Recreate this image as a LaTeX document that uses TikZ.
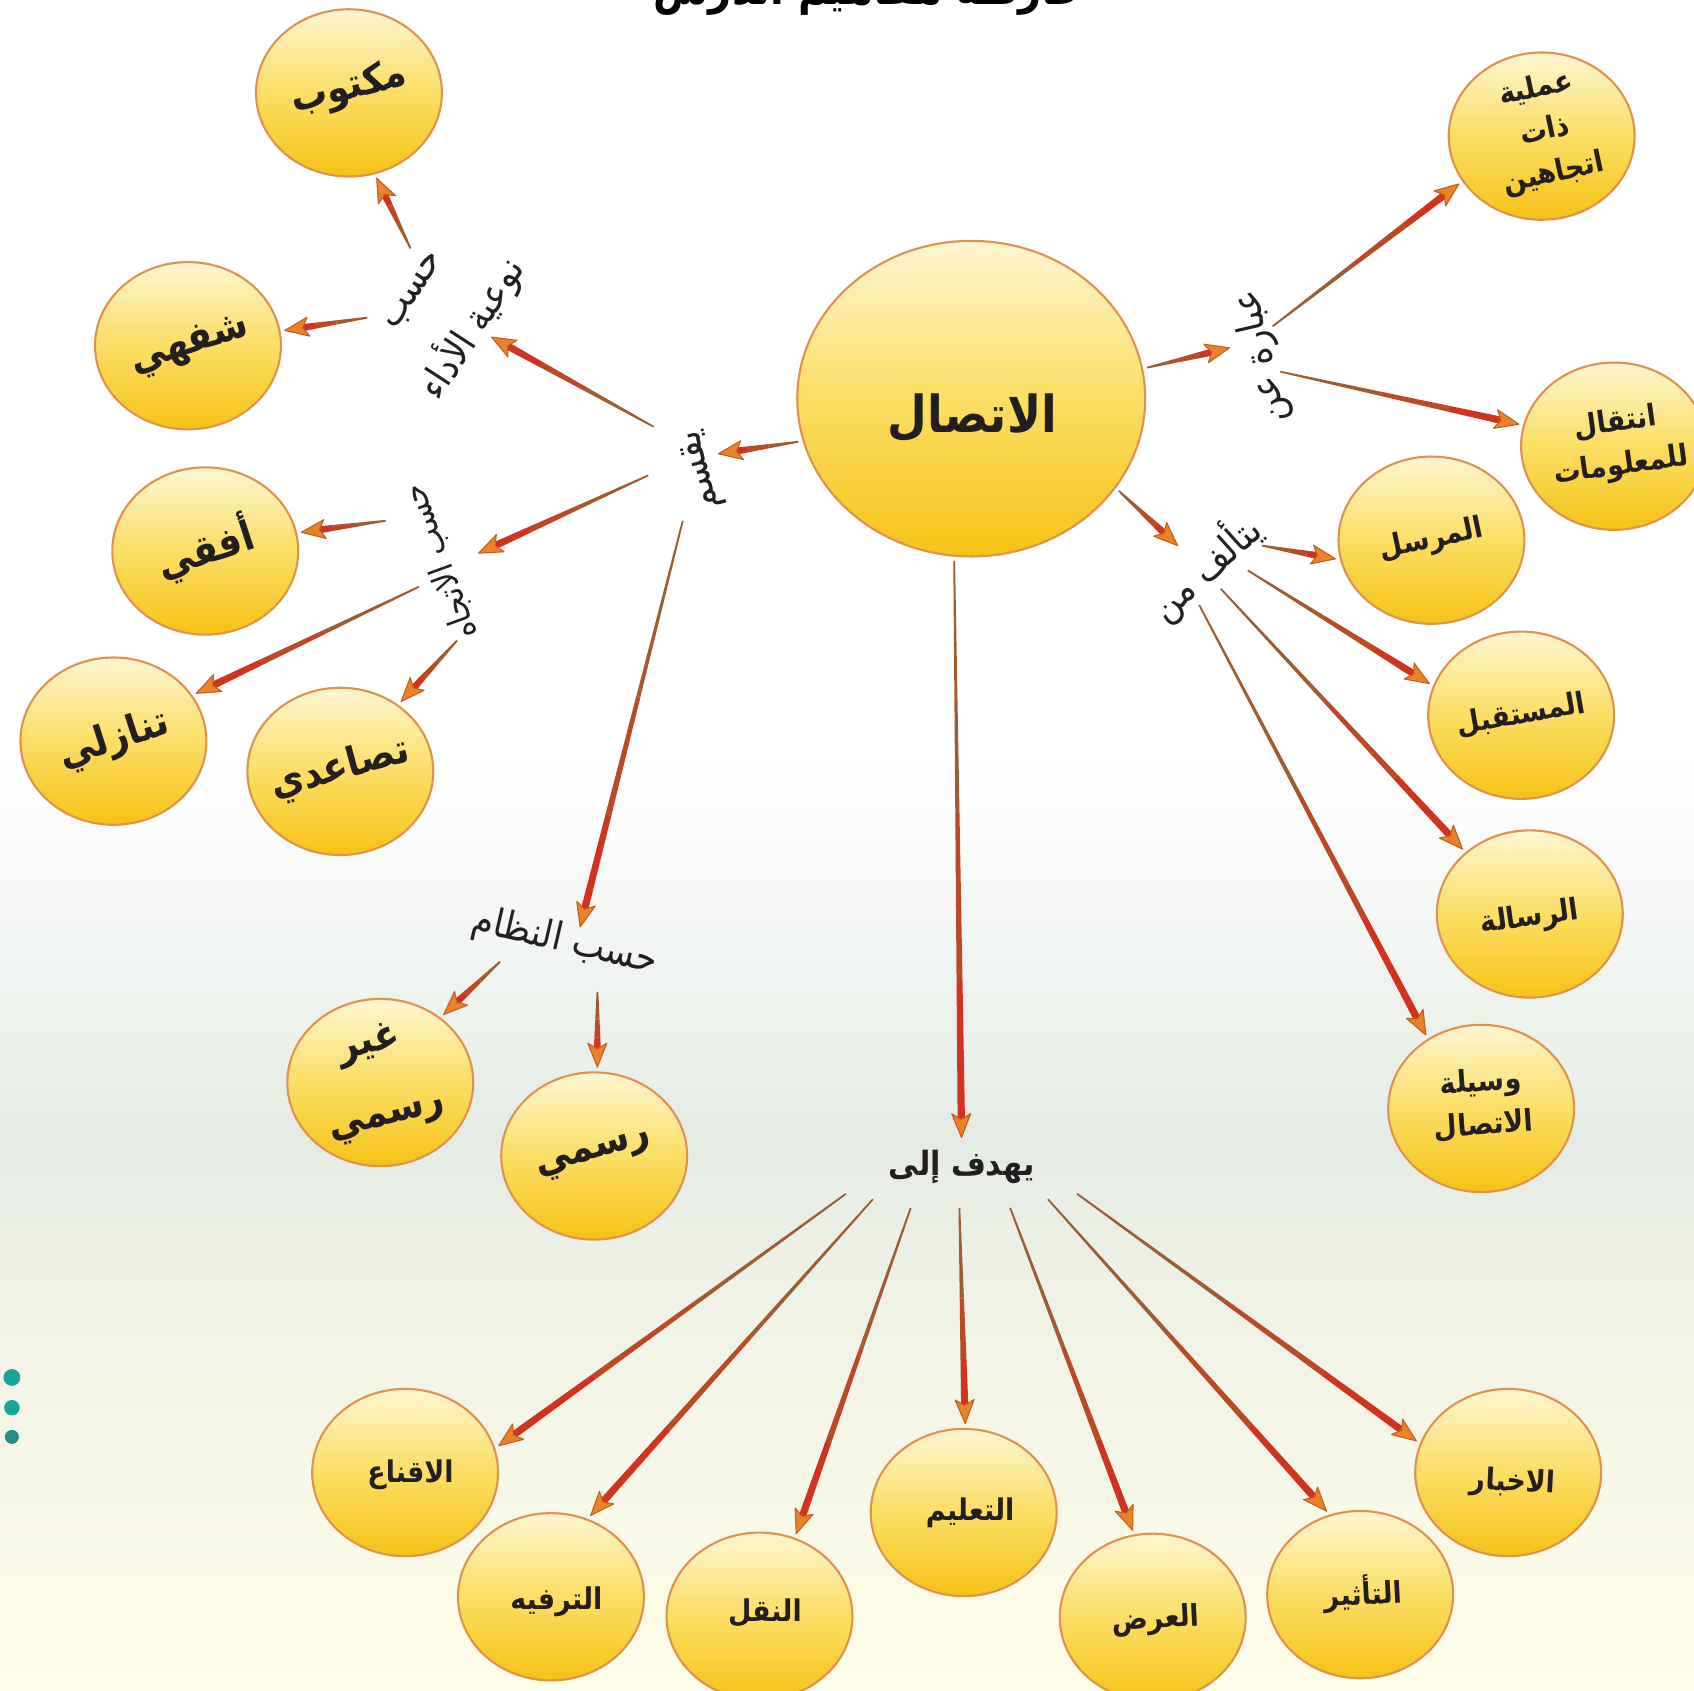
\documentclass[tikz,border=0pt]{standalone}
\usepackage{fontspec}
\usepackage{graphicx}
\usetikzlibrary{shapes.geometric,calc}
\TeXXeTstate=1
\newfontfamily\arab[Script=Arabic, FakeStretch=0.9]{DejaVu Sans}
\newcommand\AR[1]{\beginR#1\endR}
\definecolor{bubtop}{RGB}{253,245,208}
\definecolor{bubmid}{RGB}{251,222,100}
\definecolor{bubbot}{RGB}{246,194,22}
\definecolor{bubline}{RGB}{222,146,78}
\definecolor{shA}{RGB}{158,92,48}
\definecolor{shB}{RGB}{188,72,36}
\definecolor{shC}{RGB}{208,52,30}
\definecolor{hdF}{RGB}{234,130,42}
\definecolor{hdD}{RGB}{196,92,30}
\definecolor{bgA}{RGB}{228,235,228}
\definecolor{bgB}{RGB}{240,242,230}
\definecolor{bgC}{RGB}{255,253,232}
\definecolor{dotA}{RGB}{24,164,154}
\definecolor{dotB}{RGB}{36,140,128}
\definecolor{ink}{RGB}{35,31,32}
\newcommand\tarr[2]{%
 \path (#1) coordinate (tS);
 \path (#2) coordinate (tE);
 \coordinate (tH) at ($(tE)!4pt!(tS)$);
 \coordinate (tB) at ($(tE)!6.8pt!(tS)$);
 \coordinate (tN) at ($(tE)!5.2pt!(tS)$);
 \coordinate (tM1) at ($(tS)!0.45!(tH)$);
 \coordinate (tM2) at ($(tS)!0.75!(tH)$);
 \fill[shA] ($(tS)!0.25pt!90:(tE)$) -- ($(tM1)!0.6pt!90:(tE)$) -- ($(tM1)!0.6pt!-90:(tE)$) -- ($(tS)!0.25pt!-90:(tE)$) -- cycle;
 \fill[shB] ($(tM1)!0.6pt!90:(tE)$) -- ($(tM2)!0.85pt!90:(tE)$) -- ($(tM2)!0.85pt!-90:(tE)$) -- ($(tM1)!0.6pt!-90:(tE)$) -- cycle;
 \fill[shC] ($(tM2)!0.85pt!90:(tE)$) -- ($(tH)!1.05pt!90:(tE)$) -- ($(tH)!1.05pt!-90:(tE)$) -- ($(tM2)!0.85pt!-90:(tE)$) -- cycle;
 \filldraw[fill=hdF, draw=hdD, line width=0.3pt, line join=round] (tE) -- ($(tB)!2.7pt!90:(tE)$) -- (tN) -- ($(tB)!2.7pt!-90:(tE)$) -- cycle;
}
\tikzset{
 bub/.style={ellipse, minimum width=52.9pt, minimum height=47.6pt, inner sep=0pt, outer sep=1.5pt,
   draw=bubline, line width=0.6pt, top color=bubtop, bottom color=bubbot, middle color=bubmid},
 bigbub/.style={bub, minimum width=99pt, minimum height=89.8pt},
 txtbig/.style={font=\arab\bfseries\fontsize{11.5}{21}\selectfont, text=ink, inner sep=0pt, align=center},
 txtsmall/.style={font=\arab\bfseries\fontsize{8.5}{12.3}\selectfont, text=ink, inner sep=0pt, align=center},
 txtctr/.style={font=\arab\bfseries\fontsize{14.5}{17}\selectfont, text=ink, inner sep=0pt},
 lbl/.style={font=\arab\fontsize{11}{21.5}\selectfont, text=ink, inner sep=1pt, align=center},
 lblb/.style={font=\arab\bfseries\fontsize{9.5}{12}\selectfont, text=ink, inner sep=1pt},
}
\begin{document}
\begin{tikzpicture}[x=0.3074pt, y=-0.3074pt]
\useasboundingbox (0,0) rectangle (1568,1565);
\clip (0,0) rectangle (1568,1565);
% background
\fill[white] (0,0) rectangle (1568,701);
\shade[top color=white, bottom color=bgA] (0,700) rectangle (1568,1051);
\shade[top color=bgA, bottom color=bgB] (0,1050) rectangle (1568,1221);
\shade[top color=bgB, bottom color=bgC] (0,1220) rectangle (1568,1565);
% title (cut off at top)
\node[anchor=base, inner sep=0pt, font=\arab\bfseries, text=black] (title) at (805,4)
  {\resizebox{123pt}{!}{\AR{خارطة مفاهيم الدرس}}};
% side dots
\fill[dotA] (11,1275) circle (2.4pt);
\fill[dotA] (11,1303) circle (2.2pt);
\fill[dotB] (11,1330) circle (2pt);
% circles
\node[bigbub] (ctr) at (899,369) {};
\node[bub] (mkt) at (323,86) {};
\node[bub] (shf) at (174,320) {};
\node[bub] (ofq) at (190,510) {};
\node[bub] (tnz) at (105,686) {};
\node[bub] (tsd) at (315,714) {};
\node[bub] (ghr) at (352,1002) {};
\node[bub] (rsm) at (550,1070) {};
\node[bub] (aml) at (1427,126) {};
\node[bub] (ntq) at (1494,413) {};
\node[bub] (mrs) at (1325,500) {};
\node[bub] (mst) at (1408,662) {};
\node[bub] (rsl) at (1416,846) {};
\node[bub] (wsl) at (1371,1026) {};
\node[bub] (iqn) at (375,1363) {};
\node[bub] (trf) at (510,1478) {};
\node[bub] (nql) at (703,1496) {};
\node[bub] (tlm) at (892,1400) {};
\node[bub] (ard) at (1067,1497) {};
\node[bub] (tth) at (1259,1476) {};
\node[bub] (akh) at (1396,1363) {};
% circle texts
\node[txtctr] (ctr-t) at ($(ctr)+(1,18)$) {\AR{الاتصال}};
\node[txtbig, rotate=14] (mkt-t) at ($(mkt)+(0,-4)$) {\AR{مكتوب}};
\node[txtbig, rotate=18] (shf-t) at ($(shf)+(2,0)$) {\AR{شفهي}};
\node[txtbig, rotate=18] (ofq-t) at ($(ofq)+(0,-2)$) {\AR{أفقي}};
\node[txtbig, rotate=18] (tnz-t) at ($(tnz)+(1,-1)$) {\AR{تنازلي}};
\node[txtbig, rotate=15] (tsd-t) at ($(tsd)+(0,-2)$) {\AR{تصاعدي}};
\node[txtbig, rotate=14] (ghr-t) at ($(ghr)+(-2,-2)$) {\AR{غير}\\\AR{رسمي}};
\node[txtbig, rotate=16] (rsm-t) at (rsm) {\AR{رسمي}};
\node[txtsmall, rotate=12] (aml-t) at ($(aml)+(3,-4)$) {\AR{عملية}\\\AR{ذات}\\\AR{اتجاهين}};
\node[txtsmall, rotate=8] (ntq-t) at ($(ntq)+(4,-1)$) {\AR{انتقال}\\\AR{للمعلومات}};
\node[txtsmall, rotate=12] (mrs-t) at (mrs) {\AR{المرسل}};
\node[txtsmall, rotate=10] (mst-t) at (mst) {\AR{المستقبل}};
\node[txtsmall, rotate=8] (rsl-t) at ($(rsl)+(0,4)$) {\AR{الرسالة}};
\node[txtsmall, rotate=4] (wsl-t) at ($(wsl)+(1,-4)$) {\AR{وسيلة}\\\AR{الاتصال}};
\node[txtsmall] (iqn-t) at ($(iqn)+(5,2)$) {\AR{الاقناع}};
\node[txtsmall] (trf-t) at ($(trf)+(5,5)$) {\AR{الترفيه}};
\node[txtsmall] (nql-t) at ($(nql)+(5,-3)$) {\AR{النقل}};
\node[txtsmall] (tlm-t) at ($(tlm)+(6,0)$) {\AR{التعليم}};
\node[txtsmall, rotate=3] (ard-t) at ($(ard)+(3,3)$) {\AR{العرض}};
\node[txtsmall, rotate=3] (tth-t) at ($(tth)+(3,-1)$) {\AR{التأثير}};
\node[txtsmall, rotate=-3] (akh-t) at ($(akh)+(4,10)$) {\AR{الاخبار}};
% link labels
\node[lbl, rotate=57] (lnaw) at (415,290) {\AR{حسب}\\\AR{نوعية الأداء}};
\node[lbl, rotate=105] (lqsm) at (650,435) {\AR{يقسم}};
\node[lbl, rotate=110, font=\arab\fontsize{9.5}{12}\selectfont] (lijt) at (408,520) {\AR{حسب الاتجاه}};
\node[lbl, rotate=-13] (lnzm) at (523,872) {\AR{حسب النظام}};
\node[lblb] (lhdf) at (890,1080) {\AR{يهدف إلى}};
\node[lbl, rotate=103] (lebr) at (1168,330) {\AR{عبارة عن}};
\node[lbl, rotate=42] (ltlf) at (1115,525) {\AR{يتألف من}};
% connectors
\tarr{ctr.194}{$(lqsm)+(15,-15)$}
\tarr{$(lqsm)+(-45,-40)$}{$(lnaw)+(40,22)$}
\tarr{$(lqsm)+(-50,5)$}{$(lijt)+(35,-8)$}
\tarr{$(lqsm)+(-18,47)$}{$(lnzm)+(14,-14)$}
\tarr{$(lnaw)+(-35,-60)$}{mkt.288}
\tarr{$(lnaw)+(-75,4)$}{shf.9}
\tarr{$(lijt)+(-51,-38)$}{ofq.11}
\tarr{$(lijt)+(-20,23)$}{tnz.30}
\tarr{$(lijt)+(15,73)$}{tsd.49}
\tarr{$(lnzm)+(-60,18)$}{ghr.47}
\tarr{$(lnzm)+(30,46)$}{rsm.88}
\tarr{ctr.264}{$(lhdf)+(0,-27)$}
\tarr{ctr.10}{$(lebr)+(-30,-8)$}
\tarr{$(lebr)+(10,-28)$}{aml.210}
\tarr{$(lebr)+(17,14)$}{ntq.167}
\tarr{ctr.328}{$(ltlf)+(-25,-20)$}
\tarr{$(ltlf)+(53,-20)$}{mrs.191}
\tarr{$(ltlf)+(40,3)$}{mst.161}
\tarr{$(ltlf)+(15,20)$}{rsl.136}
\tarr{$(ltlf)+(-5,35)$}{wsl.127}
\tarr{$(lhdf)+(-107,25)$}{iqn.16}
\tarr{$(lhdf)+(-82,30)$}{trf.64}
\tarr{$(lhdf)+(-47,38)$}{nql.66}
\tarr{$(lhdf)+(-2,38)$}{tlm.89}
\tarr{$(lhdf)+(45,38)$}{ard.103}
\tarr{$(lhdf)+(80,30)$}{tth.112}
\tarr{$(lhdf)+(107,25)$}{akh.161}
\end{tikzpicture}
\end{document}
